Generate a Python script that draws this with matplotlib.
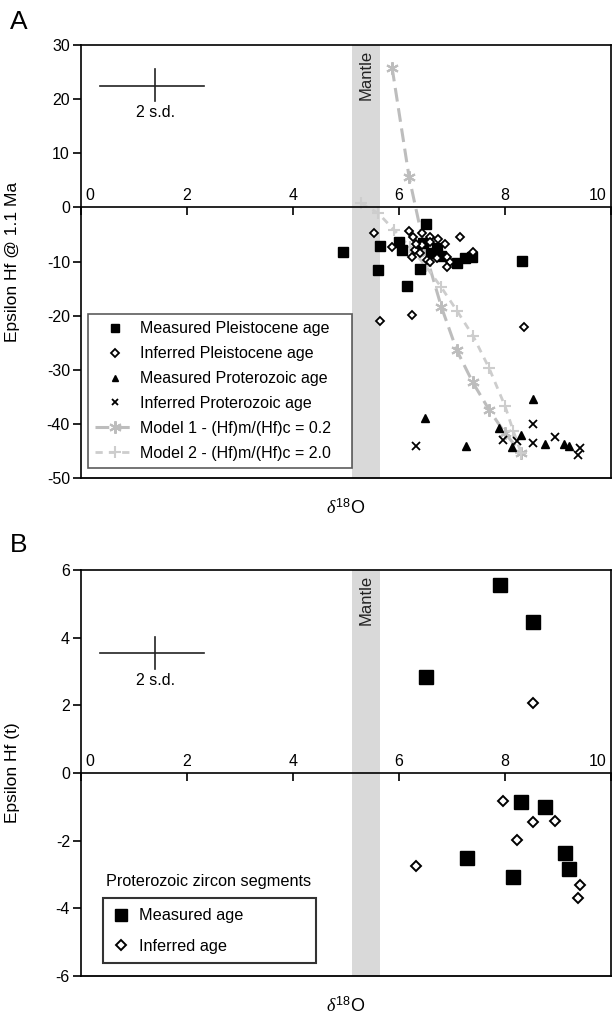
import matplotlib.pyplot as plt

plt.rcParams['font.family'] = ['Liberation Sans', 'DejaVu Sans']
plt.rcParams['mathtext.fontset'] = 'custom'
plt.rcParams['mathtext.rm'] = 'Liberation Sans'
plt.rcParams['mathtext.it'] = 'Liberation Serif:italic'

# --- panel A data (d18O, epsilon Hf @ 1.1 Ma) ---
meas_pleist_x = [4.95, 5.6, 5.65, 6.0, 6.05, 6.15, 6.4, 6.5, 6.45, 6.6, 6.72, 6.8, 7.1, 7.25, 7.38, 8.32]
meas_pleist_y = [-8.2, -11.5, -7.2, -6.4, -7.9, -14.5, -11.3, -3.0, -6.5, -8.5, -7.5, -9.0, -10.3, -9.3, -9.2, -9.9]

inf_pleist_x = [5.53, 5.86, 6.19, 6.27, 6.43, 6.58, 6.74, 6.87, 6.58, 6.43, 6.3, 6.24, 6.4,
                6.52, 6.58, 6.71, 6.9, 6.96, 6.9, 7.15, 7.4, 6.33, 5.65, 6.25, 8.35]
inf_pleist_y = [-4.8, -7.3, -4.4, -5.4, -4.8, -5.4, -5.8, -6.7, -6.4, -7.0, -7.9, -9.1, -8.5,
                -9.75, -10.1, -9.4, -9.1, -10.1, -11.0, -5.4, -8.2, -6.7, -21.0, -19.8, -22.1]

meas_prot_x = [6.49, 7.26, 7.89, 8.3, 8.14, 8.52, 8.75, 9.11, 9.2]
meas_prot_y = [-39.0, -44.0, -40.7, -42.1, -44.3, -35.4, -43.7, -43.7, -44.0]

inf_prot_x = [6.33, 7.96, 8.22, 8.52, 8.52, 8.94, 9.42, 9.37]
inf_prot_y = [-44.1, -42.9, -43.1, -40.0, -43.6, -42.5, -44.5, -45.7]

model1_x = [5.87, 6.19, 6.5, 6.8, 7.09, 7.39, 7.7, 8.0, 8.3]
model1_y = [25.8, 5.6, -8.4, -18.4, -26.4, -32.3, -37.4, -41.7, -45.3]

model2_x = [5.28, 5.61, 5.9, 6.2, 6.5, 6.8, 7.1, 7.4, 7.7, 8.0, 8.16, 8.3]
model2_y = [0.8, -1.1, -4.1, -7.3, -10.8, -14.8, -19.2, -23.8, -29.7, -36.7, -41.4, -45.3]

# --- panel B data (d18O, epsilon Hf (t)) ---
b_meas_x = [7.9, 8.53, 6.5, 8.3, 8.75, 7.28, 8.16, 9.14, 9.2]
b_meas_y = [5.56, 4.45, 2.83, -0.87, -1.0, -2.5, -3.07, -2.35, -2.83]

b_inf_x = [8.52, 7.96, 8.52, 8.94, 8.22, 6.32, 9.42, 9.37]
b_inf_y = [2.08, -0.82, -1.46, -1.42, -1.98, -2.75, -3.31, -3.69]

mantle = (5.12, 5.65)
sd_x = (0.35, 2.33)
sd_center_x = 1.4
sd_a = (22.4, 19.6, 25.5)   # centre, low, high
sd_b = (3.55, 3.08, 4.02)

xticks = [0, 2, 4, 6, 8, 10]

fig = plt.figure(figsize=(6.16, 10.15), dpi=100)
W, H = 616, 1015
axA = fig.add_axes([81 / W, 1 - 478 / H, 530 / W, 433 / H])
axB = fig.add_axes([81 / W, 1 - 976 / H, 530 / W, 406 / H])

FS = 11.5


def style_axes(ax, ylim, yticks, ylabel):
    ax.spines['bottom'].set_position(('data', 0))
    ax.set_xlim(0, 10)
    ax.set_ylim(*ylim)
    ax.set_yticks(yticks)
    ax.set_yticklabels([str(t) for t in yticks], fontsize=FS)
    for s in ax.spines.values():
        s.set_linewidth(1.2)
        s.set_color('black')
    ax.tick_params(axis='y', direction='out', length=6, width=1.2, pad=2)
    # x axis drawn at zero: ticks below, labels above the line
    ax.set_xticks(xticks)
    ax.tick_params(axis='x', direction='out', length=6, width=1.2, labelbottom=False)
    for i, t in enumerate(xticks):
        ha = 'left' if i == 0 else ('right' if i == len(xticks) - 1 else 'center')
        dx = 3 if i == 0 else (-3 if i == len(xticks) - 1 else 0)
        ax.annotate(str(t), (t, 0), xytext=(dx, 3), textcoords='offset points',
                    ha=ha, va='bottom', fontsize=FS)
    ax.axhline(ylim[0], color='black', lw=1.3, clip_on=False)
    ax.axvspan(*mantle, color='#d9d9d9', zorder=0, lw=0)
    ax.set_ylabel(ylabel, fontsize=12.5, labelpad=10)
    ax.text((mantle[0] + mantle[1]) / 2, ylim[1] - (ylim[1] - ylim[0]) * 0.012, 'Mantle',
            rotation=90, ha='center', va='top', fontsize=12, color='#222222')
    ax.annotate(r'$\delta^{18}$O', (0.5, 0), xycoords='axes fraction',
                xytext=(0, -22), textcoords='offset points', ha='center',
                va='center', fontsize=13)


style_axes(axA, (-50, 30), list(range(-50, 31, 10)), 'Epsilon Hf @ 1.1 Ma')
style_axes(axB, (-6, 6), list(range(-6, 7, 2)), 'Epsilon Hf (t)')
axA.yaxis.set_label_coords(-0.115, 0.5)
axB.yaxis.set_label_coords(-0.115, 0.5)

# model curves
axA.plot(model1_x, model1_y, color='#bdbdbd', lw=2.2, dashes=(4.5, 2.2),
         marker=(6, 2, 0), ms=9, mew=1.5, zorder=2,
         label='Model 1 - (Hf)m/(Hf)c = 0.2')
axA.plot(model2_x, model2_y, color='#cdcdcd', lw=2.0, dashes=(2.6, 2.2),
         marker='+', ms=8, mew=1.5, zorder=2,
         label='Model 2 - (Hf)m/(Hf)c = 2.0')

axA.plot(meas_pleist_x, meas_pleist_y, 's', color='black', ms=6.8, zorder=3,
         label='Measured Pleistocene age')
axA.plot(inf_pleist_x, inf_pleist_y, 'D', mfc='white', mec='black', ms=4.5, mew=1.3,
         zorder=4, label='Inferred Pleistocene age')
axA.plot(meas_prot_x, meas_prot_y, '^', color='black', ms=6, zorder=3,
         label='Measured Proterozoic age')
axA.plot(inf_prot_x, inf_prot_y, 'x', color='black', ms=6, mew=1.3, zorder=3,
         label='Inferred Proterozoic age')

h, l = axA.get_legend_handles_labels()
order = [2, 3, 4, 5, 0, 1]
legA = axA.legend([h[i] for i in order], [l[i] for i in order], loc='lower left',
                  bbox_to_anchor=(0.013, 0.023, 0.498, 0.36), mode='expand',
                  borderaxespad=0, fontsize=FS,
                  frameon=True, fancybox=False, edgecolor='#333333',
                  handlelength=2.5, handletextpad=0.3, labelspacing=0.62,
                  borderpad=0.45, numpoints=1)
legA.get_frame().set_linewidth(1.2)
legA.legend_handles[0].set_markersize(5.5)
legA.legend_handles[2].set_markersize(5)
legA.legend_handles[3].set_markersize(5)

axB.plot(b_meas_x, b_meas_y, 's', color='black', ms=9.5, zorder=3, label='Measured age')
axB.plot(b_inf_x, b_inf_y, 'D', mfc='white', mec='black', ms=5, mew=1.4, zorder=3,
         label='Inferred age')
legB = axB.legend(loc='lower left', bbox_to_anchor=(0.041, 0.031, 0.402, 0.174),
                  mode='expand', borderaxespad=0, fontsize=FS + 0.2, frameon=True,
                  fancybox=False, edgecolor='black', handlelength=1.1,
                  handletextpad=0.55, labelspacing=0.95, borderpad=0.6)
legB.get_frame().set_linewidth(1.5)
legB.legend_handles[0].set_markersize(8)
axB.text(0.048, 0.232, 'Proterozoic zircon segments', transform=axB.transAxes,
         fontsize=FS + 0.2, ha='left', va='center')

# 2 s.d. crosses
for ax, (cy, lo, hi) in ((axA, sd_a), (axB, sd_b)):
    ax.plot(sd_x, [cy, cy], color='#222222', lw=1.2)
    ax.plot([sd_center_x, sd_center_x], [lo, hi], color='#222222', lw=1.2)
    ax.annotate('2 s.d.', (sd_center_x, lo), xytext=(0, -3), textcoords='offset points',
                ha='center', va='top', fontsize=FS)

fig.text(10 / W, 1 - 22 / H, 'A', fontsize=19, va='center', ha='left')
fig.text(10 / W, 1 - 545 / H, 'B', fontsize=19, va='center', ha='left')

fig.savefig('out.png', dpi=100)
